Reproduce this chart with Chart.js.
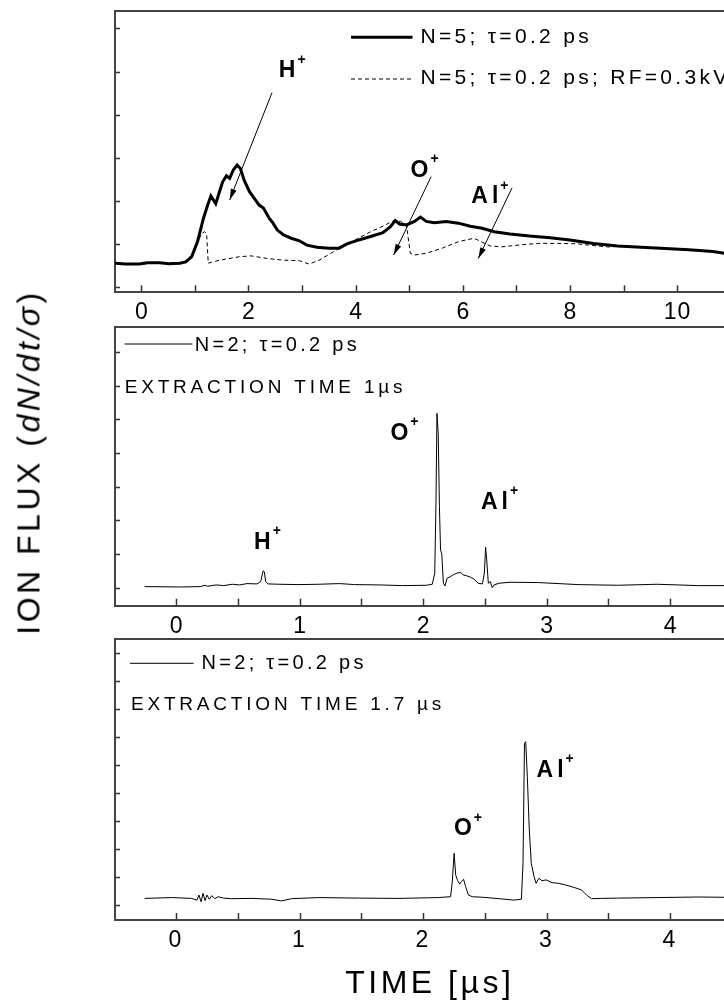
<!DOCTYPE html>
<html>
<head>
<meta charset="utf-8">
<script src="https://cdn.jsdelivr.net/npm/chart.js@4.4.1/dist/chart.umd.min.js"></script>
<style>
  html, body { margin: 0; padding: 0; background: #fff; overflow: hidden; width: 724px; height: 1002px; }
  #wrap { position: relative; width: 724px; height: 1002px; overflow: hidden; }
  canvas { position: absolute; left: 0; top: 0; }
  #ytitle {
    position: absolute; left: 29px; top: 462px;
    transform: translate(-50%, -50%) rotate(-90deg);
    font: 32px 'Liberation Sans', Arial, sans-serif; letter-spacing: 3.5px;
    white-space: nowrap; color: #000;
  }
</style>
</head>
<body>
<div id="wrap">
  <canvas id="p1" width="770" height="1002"></canvas>
  <canvas id="p2" width="770" height="1002"></canvas>
  <canvas id="p3" width="770" height="1002"></canvas>
  <div id="ytitle">ION FLUX (<i>dN/dt/σ</i>)</div>
</div>
<script>
const FONT = "'Liberation Sans', Arial, sans-serif";

// top panel: N=5, with and without RF
const p1X = [-0.5, -0.3, -0.04, 0.1, 0.34, 0.5, 0.71, 0.82, 0.93, 1.04, 1.15, 1.23, 1.29, 1.38, 1.45, 1.51, 1.58, 1.64, 1.71, 1.78, 1.84, 1.91, 2.01, 2.12, 2.19, 2.27, 2.38, 2.45, 2.53, 2.64, 2.79, 2.94, 3.08, 3.27, 3.49, 3.68, 3.83, 4.05, 4.27, 4.50, 4.64, 4.73, 4.81, 4.94, 5.09, 5.20, 5.31, 5.46, 5.68, 5.91, 6.13, 6.35, 6.58, 6.87, 7.24, 7.62, 7.99, 8.43, 8.88, 9.32, 9.77, 10.21, 10.66, 10.87, 11.25];
const p1Solid = [0.56, 0.54, 0.54, 0.57, 0.57, 0.55, 0.56, 0.59, 0.71, 1.06, 1.60, 1.91, 2.12, 1.94, 2.22, 2.45, 2.59, 2.53, 2.73, 2.84, 2.76, 2.49, 2.22, 2.03, 1.91, 1.84, 1.60, 1.49, 1.33, 1.22, 1.14, 1.08, 0.98, 0.93, 0.91, 0.91, 1.01, 1.10, 1.18, 1.27, 1.41, 1.55, 1.47, 1.45, 1.53, 1.63, 1.53, 1.50, 1.53, 1.49, 1.42, 1.37, 1.29, 1.24, 1.19, 1.15, 1.10, 1.02, 0.96, 0.93, 0.90, 0.87, 0.83, 0.79, 0.77];
const p1DashX = [-0.5, -0.04, 0.34, 0.71, 0.82, 0.93, 1.04, 1.12, 1.17, 1.21, 1.24, 1.30, 1.45, 1.82, 2.04, 2.34, 2.64, 2.94, 3.12, 3.31, 3.53, 3.75, 3.98, 4.27, 4.50, 4.72, 4.83, 4.94, 5.01, 5.09, 5.31, 5.61, 5.91, 6.20, 6.50, 6.72, 7.02, 7.39, 7.76, 8.13, 8.50, 8.80];
const p1Dash = [0.56, 0.54, 0.57, 0.56, 0.59, 0.71, 1.06, 1.25, 1.29, 1.25, 0.56, 0.58, 0.63, 0.71, 0.73, 0.67, 0.63, 0.62, 0.54, 0.63, 0.79, 0.96, 1.10, 1.29, 1.42, 1.56, 1.53, 1.45, 0.79, 0.75, 0.79, 0.91, 1.06, 1.14, 0.96, 0.94, 0.98, 1.02, 1.02, 1.01, 0.96, 0.93];
const p1XTicks = [0, 1, 2, 3, 4, 5, 6, 7, 8, 9, 10, 11];
const p1XLabels = ['0', '', '2', '', '4', '', '6', '', '8', '', '10', ''];
const p1YTicks = [0, 1, 2, 3, 4, 5, 6];
const p1Ions = ['H', 'O', 'Al'];
const p1IonX = [2.75, 5.22, 6.44];
const p1IonY = [5.03, 2.71, 2.10];
const p1ArrowFrom = [[2.43, 4.52], [5.40, 2.57], [6.91, 2.31]];
const p1ArrowTo = [[1.64, 2.03], [4.70, 0.75], [6.28, 0.67]];

// middle panel: N=2, extraction 1 us
const p2X = [-0.26, 0.03, 0.19, 0.23, 0.25, 0.32, 0.38, 0.45, 0.51, 0.57, 0.65, 0.68, 0.70, 0.71, 0.72, 0.74, 0.83, 0.99, 1.15, 1.32, 1.44, 1.64, 1.83, 2.02, 2.07, 2.09, 2.10, 2.108, 2.118, 2.128, 2.137, 2.147, 2.16, 2.173, 2.19, 2.22, 2.24, 2.27, 2.30, 2.32, 2.35, 2.38, 2.41, 2.44, 2.476, 2.492, 2.502, 2.511, 2.524, 2.54, 2.556, 2.57, 2.61, 2.70, 2.93, 3.25, 3.57, 3.89, 4.06, 4.22, 4.44, 4.6];
const p2Y = [0.05, 0.04, 0.05, 0.09, 0.06, 0.10, 0.08, 0.12, 0.10, 0.14, 0.13, 0.20, 0.52, 0.49, 0.20, 0.13, 0.12, 0.11, 0.12, 0.14, 0.11, 0.10, 0.08, 0.09, 0.12, 0.45, 2.52, 5.19, 4.60, 2.42, 1.14, 1.02, 0.15, 0.07, 0.30, 0.35, 0.40, 0.45, 0.47, 0.40, 0.37, 0.33, 0.27, 0.15, 0.13, 0.45, 1.22, 0.84, 0.15, 0.20, 0.02, 0.10, 0.15, 0.18, 0.17, 0.11, 0.09, 0.12, 0.10, 0.08, 0.08, 0.08];
const p23XTicks = [0, 0.5, 1, 1.5, 2, 2.5, 3, 3.5, 4, 4.5];
const p23XLabels = ['0', '', '1', '', '2', '', '3', '', '4', ''];
const p2YTicks = [0, 1, 2, 3, 4, 5, 6, 7];
const p2Ions = ['H', 'O', 'Al'];
const p2IonX = [0.71, 1.82, 2.59];
const p2IonY = [1.36, 4.60, 2.55];

// bottom panel: N=2, extraction 1.7 us
const p3X = [-0.26, -0.04, 0.12, 0.164, 0.18, 0.197, 0.213, 0.229, 0.245, 0.264, 0.284, 0.309, 0.335, 0.38, 0.445, 0.61, 0.77, 0.85, 0.93, 1.15, 1.48, 1.80, 2.12, 2.218, 2.231, 2.247, 2.26, 2.276, 2.292, 2.305, 2.324, 2.34, 2.363, 2.395, 2.48, 2.61, 2.73, 2.792, 2.805, 2.817, 2.827, 2.84, 2.856, 2.872, 2.895, 2.911, 2.934, 2.959, 2.992, 3.04, 3.09, 3.15, 3.22, 3.28, 3.32, 3.36, 3.44, 3.57, 3.89, 4.22, 4.44, 4.6];
const p3Y = [0.26, 0.29, 0.26, 0.20, 0.38, 0.14, 0.44, 0.18, 0.38, 0.23, 0.36, 0.25, 0.32, 0.27, 0.25, 0.26, 0.23, 0.17, 0.25, 0.29, 0.27, 0.26, 0.29, 0.32, 0.80, 1.87, 1.09, 0.89, 0.77, 0.86, 0.94, 0.68, 0.38, 0.32, 0.30, 0.25, 0.20, 0.23, 1.51, 5.79, 5.85, 4.60, 2.70, 1.51, 1.03, 0.80, 0.98, 0.89, 0.92, 0.82, 0.80, 0.74, 0.65, 0.56, 0.38, 0.25, 0.26, 0.27, 0.29, 0.31, 0.30, 0.30];
const p3YTicks = [0, 1, 2, 3, 4, 5, 6, 7, 8, 9];
const p3Ions = ['O', 'Al'];
const p3IonX = [2.334, 3.04];
const p3IonY = [2.73, 4.82];

const pts = (xs, ys) => xs.map((x, i) => ({ x: x, y: ys[i] }));

const notesPlugin = {
  id: 'notes',
  beforeDraw(chart, args, opts) {
    chart.ctx.letterSpacing = opts.tickSpacing || '0px';
  },
  afterDatasetsDraw(chart, args, opts) {
    const { ctx, chartArea: a, scales } = chart;
    const sx = scales.x, sy = scales.y;
    ctx.save();
    ctx.fillStyle = '#000';
    ctx.strokeStyle = '#000';

    (opts.legend || []).forEach(l => {
      const ds = chart.data.datasets[l.dataset];
      ctx.save();
      ctx.lineWidth = ds.borderWidth;
      ctx.setLineDash(ds.borderDash || []);
      ctx.beginPath();
      ctx.moveTo(a.left + l.x0, a.top + l.y);
      ctx.lineTo(a.left + l.x1, a.top + l.y);
      ctx.stroke();
      ctx.restore();
      ctx.font = l.size + 'px ' + FONT;
      ctx.letterSpacing = '3.3px';
      ctx.textAlign = 'left';
      ctx.textBaseline = 'middle';
      ctx.fillText(ds.label, a.left + l.tx, a.top + l.ty);
    });

    (opts.notes || []).forEach(n => {
      ctx.font = '19px ' + FONT;
      ctx.letterSpacing = '3.8px';
      ctx.textAlign = 'left';
      ctx.textBaseline = 'middle';
      ctx.fillText(n.text, a.left + n.x, a.top + n.y);
    });

    (opts.arrowFrom || []).forEach((f, i) => {
      const t = opts.arrowTo[i];
      const x1 = sx.getPixelForValue(f[0]), y1 = sy.getPixelForValue(f[1]);
      const x2 = sx.getPixelForValue(t[0]), y2 = sy.getPixelForValue(t[1]);
      ctx.lineWidth = 1;
      ctx.beginPath();
      ctx.moveTo(x1, y1);
      ctx.lineTo(x2, y2);
      ctx.stroke();
      const ang = Math.atan2(y2 - y1, x2 - x1);
      const c = Math.cos(ang), s = Math.sin(ang);
      ctx.beginPath();
      ctx.moveTo(x2, y2);
      ctx.lineTo(x2 - 11 * c + 3 * s, y2 - 11 * s - 3 * c);
      ctx.lineTo(x2 - 11 * c - 3 * s, y2 - 11 * s + 3 * c);
      ctx.closePath();
      ctx.fill();
    });

    (opts.ions || []).forEach((name, i) => {
      const px = sx.getPixelForValue(opts.ionX[i]);
      const py = sy.getPixelForValue(opts.ionY[i]);
      ctx.font = 'bold 23px ' + FONT;
      ctx.letterSpacing = '4px';
      ctx.textAlign = 'center';
      ctx.textBaseline = 'middle';
      ctx.fillText(name, px, py);
      const w = ctx.measureText(name).width;
      ctx.font = 'bold 14px ' + FONT;
      ctx.letterSpacing = '0px';
      ctx.textAlign = 'left';
      ctx.fillText('+', px + w / 2 - 2, py - 11);
    });
    ctx.restore();
  }
};

function panel(id, p) {
  const setTicks = list => s => { s.ticks = list.map(v => ({ value: v })); };
  return new Chart(document.getElementById(id), {
    type: 'line',
    data: { datasets: p.datasets },
    options: {
      responsive: false,
      animation: false,
      devicePixelRatio: 1,
      layout: { padding: p.padding },
      elements: { point: { radius: 0 }, line: { tension: 0 } },
      plugins: { legend: { display: false }, tooltip: { enabled: false }, notes: p.notes },
      scales: {
        x: {
          type: 'linear', position: 'bottom', min: p.xMin, max: p.xMax,
          afterBuildTicks: setTicks(p.xTicks),
          afterFit: s => { s.height = p.xAxisHeight; },
          ticks: {
            autoSkip: false, maxRotation: 0, padding: 16, color: '#000',
            font: { family: FONT, size: 23, lineHeight: 1 },
            callback: (v, i) => p.xLabels[i]
          },
          grid: { drawOnChartArea: false, tickLength: -7, tickWidth: 1.5, tickColor: '#333' },
          border: { color: '#444', width: 2 },
          title: p.xTitle || { display: false }
        },
        xTop: {
          type: 'linear', position: 'top', min: p.xMin, max: p.xMax,
          afterFit: s => { s.height = 0; },
          ticks: { display: false },
          grid: { display: false, drawTicks: false },
          border: { color: '#444', width: 2 }
        },
        y: {
          type: 'linear', position: 'left', min: p.yMin, max: p.yMax,
          afterBuildTicks: setTicks(p.yTicks),
          afterFit: s => { s.width = 0; },
          ticks: { display: false },
          grid: { drawOnChartArea: false, tickLength: -5, tickWidth: 1.5, tickColor: '#333' },
          border: { color: '#444', width: 2 }
        }
      }
    },
    plugins: [notesPlugin]
  });
}

panel('p1', {
  datasets: [
    { label: 'N=5; τ=0.2 ps', data: pts(p1X, p1Solid), borderColor: '#000', borderWidth: 3 },
    { label: 'N=5; τ=0.2 ps; RF=0.3kV', data: pts(p1DashX, p1Dash), borderColor: '#000', borderWidth: 1, borderDash: [4, 3] }
  ],
  padding: { left: 115, top: 11, right: 25.4, bottom: 679.7 },
  xMin: -0.5, xMax: 11.25, yMin: -0.116, yMax: 6.418,
  xTicks: p1XTicks, xLabels: p1XLabels, yTicks: p1YTicks, xAxisHeight: 30,
  notes: {
    tickSpacing: '1px',
    legend: [
      { dataset: 0, x0: 236, x1: 297.5, y: 26.3, tx: 305.5, ty: 26.5, size: 21 },
      { dataset: 1, x0: 236, x1: 297.5, y: 68, tx: 305.5, ty: 67, size: 21 }
    ],
    ions: p1Ions, ionX: p1IonX, ionY: p1IonY,
    arrowFrom: p1ArrowFrom, arrowTo: p1ArrowTo
  }
});

panel('p2', {
  datasets: [
    { label: 'N=2; τ=0.2 ps', data: pts(p2X, p2Y), borderColor: '#000', borderWidth: 1 }
  ],
  padding: { left: 115, top: 326.7, right: 25.4, bottom: 366.3 },
  xMin: -0.5, xMax: 4.6, yMin: -0.516, yMax: 7.76,
  xTicks: p23XTicks, xLabels: p23XLabels, yTicks: p2YTicks, xAxisHeight: 30,
  notes: {
    tickSpacing: '1px',
    legend: [{ dataset: 0, x0: 9.7, x1: 77.4, y: 17.3, tx: 79.7, ty: 18.3, size: 20 }],
    notes: [{ text: 'EXTRACTION TIME 1µs', x: 9.7, y: 61 }],
    ions: p2Ions, ionX: p2IonX, ionY: p2IonY
  }
});

panel('p3', {
  datasets: [
    { label: 'N=2; τ=0.2 ps', data: pts(p3X, p3Y), borderColor: '#000', borderWidth: 1 }
  ],
  padding: { left: 115, top: 639, right: 25.4, bottom: 0 },
  xMin: -0.5, xMax: 4.6, yMin: -0.51, yMax: 9.51,
  xTicks: p23XTicks, xLabels: p23XLabels, yTicks: p3YTicks, xAxisHeight: 82,
  xTitle: {
    display: true, text: 'TIME [µs]', color: '#000', padding: 0,
    font: { family: FONT, size: 32, lineHeight: 1.1 }
  },
  notes: {
    tickSpacing: '3.5px',
    legend: [{ dataset: 0, x0: 14.9, x1: 78.6, y: 24.3, tx: 86.5, ty: 24.3, size: 20 }],
    notes: [{ text: 'EXTRACTION TIME 1.7 µs', x: 16, y: 66 }],
    ions: p3Ions, ionX: p3IonX, ionY: p3IonY
  }
});
</script>
</body>
</html>
